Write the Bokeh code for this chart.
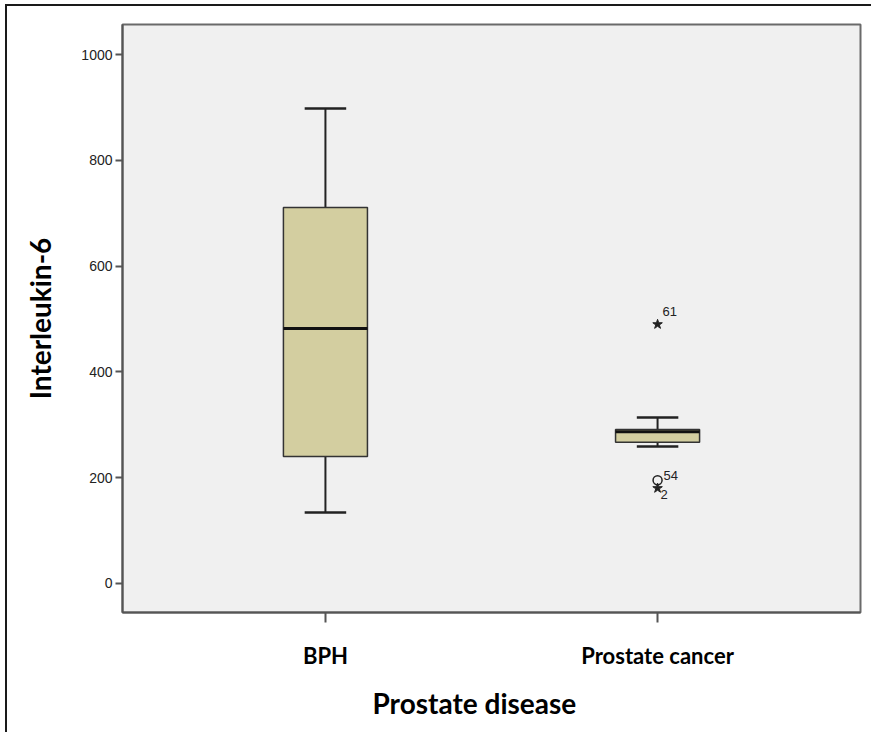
from bokeh.plotting import figure
from bokeh.models import ColumnDataSource, FixedTicker, Title
from bokeh.core.properties import value
from bokeh.embed import file_html
from bokeh.resources import INLINE

# ---- data ----
categories = ["BPH", "Prostate cancer"]
q1 = [240, 267]
median = [482, 287]
q3 = [711, 291]
whisker_low = [134, 259]
whisker_high = [898, 314]

outlier_group = ["Prostate cancer", "Prostate cancer", "Prostate cancer"]
outlier_value = [490, 195, 180]
outlier_case = ["61", "54", "2"]
outlier_kind = ["extreme", "mild", "extreme"]

y_ticks = [0, 200, 400, 600, 800, 1000]
x_title = "Prostate disease"

# ---- layout / style ----
box_width = 0.253
cap_width = 0.125
label_dx = [5, 6, 3]
label_dy = [-13, -5, 6]

xpos = [i + 1 for i in range(len(categories))]
pos_of = {c: i + 1 for i, c in enumerate(categories)}

p = figure(width=866, height=728, x_range=(0.389, 2.611), y_range=(-55, 1057),
           output_backend="svg", toolbar_location=None,
           min_border_left=115, min_border_right=13, min_border_top=18, min_border_bottom=122)
p.styles = {"margin-left": "5px", "margin-top": "4px",
            "border-left": "2px solid #1a1a1a", "border-top": "2px solid #1a1a1a"}

p.background_fill_color = "#f0f0f0"
p.border_fill_color = "white"
p.outline_line_color = "#6a6a6a"
p.outline_line_width = 2
p.grid.visible = False

box_src = ColumnDataSource(dict(x=xpos, q1=q1, q3=q3, med=median, lo=whisker_low, hi=whisker_high,
                                cl=[x - cap_width / 2 for x in xpos], cr=[x + cap_width / 2 for x in xpos],
                                ml=[x - box_width / 2 for x in xpos], mr=[x + box_width / 2 for x in xpos]))

# whiskers
p.segment(x0="x", y0="q3", x1="x", y1="hi", source=box_src, line_color="#222222", line_width=2)
p.segment(x0="x", y0="lo", x1="x", y1="q1", source=box_src, line_color="#222222", line_width=2)
p.segment(x0="cl", y0="hi", x1="cr", y1="hi", source=box_src, line_color="#222222", line_width=2.5)
p.segment(x0="cl", y0="lo", x1="cr", y1="lo", source=box_src, line_color="#222222", line_width=2.5)
# boxes
p.vbar(x="x", width=box_width, top="q3", bottom="q1", source=box_src,
       fill_color="#d3cea0", line_color="#333333", line_width=1.5)
# medians
p.segment(x0="ml", y0="med", x1="mr", y1="med", source=box_src, line_color="#111111", line_width=3)

# outliers
ox = [pos_of[g] for g in outlier_group]
star_idx = [i for i, k in enumerate(outlier_kind) if k == "extreme"]
circ_idx = [i for i, k in enumerate(outlier_kind) if k == "mild"]
p.scatter(x=[ox[i] for i in star_idx], y=[outlier_value[i] for i in star_idx], marker="star",
          size=10, fill_color="#222222", line_color="#222222")
p.scatter(x=[ox[i] for i in circ_idx], y=[outlier_value[i] for i in circ_idx], marker="circle",
          size=9, fill_color=None, line_color="#222222", line_width=1.5)

lab_src = ColumnDataSource(dict(x=ox, y=outlier_value, t=outlier_case, dx=label_dx, dy=label_dy))
p.text(x="x", y="y", text="t", x_offset="dx", y_offset="dy", source=lab_src,
       text_font=value("Liberation Sans"), text_font_size="13px", text_color="#222222",
       text_align="left", text_baseline="middle")

# axes
p.yaxis.ticker = FixedTicker(ticks=y_ticks)
p.yaxis.minor_tick_line_color = None
p.yaxis.major_tick_out = 7
p.yaxis.major_tick_in = 0
p.yaxis.major_label_standoff = 3
p.yaxis.major_label_text_font = "Liberation Sans"
p.yaxis.major_label_text_font_size = "14px"
p.yaxis.major_label_text_color = "#222222"
p.yaxis.axis_line_color = "#555555"
p.yaxis.axis_line_width = 2
p.yaxis.major_tick_line_color = "#555555"
p.yaxis.major_tick_line_width = 2
p.yaxis.axis_label = "Interleukin-6"
p.yaxis.axis_label_text_font = "Lato"
p.yaxis.axis_label_text_font_style = "bold"
p.yaxis.axis_label_text_font_size = "28px"
p.yaxis.axis_label_text_color = "black"
p.yaxis.axis_label_standoff = 21

p.xaxis.ticker = FixedTicker(ticks=xpos)
p.xaxis.major_label_overrides = {x: c for x, c in zip(xpos, categories)}
p.xaxis.minor_tick_line_color = None
p.xaxis.major_tick_out = 10
p.xaxis.major_tick_in = 0
p.xaxis.major_label_standoff = 19
p.xaxis.major_label_text_font = "Lato"
p.xaxis.major_label_text_font_style = "bold"
p.xaxis.major_label_text_font_size = "22px"
p.xaxis.major_label_text_color = "black"
p.xaxis.axis_line_color = "#555555"
p.xaxis.axis_line_width = 2
p.xaxis.major_tick_line_color = "#555555"
p.xaxis.major_tick_line_width = 2

p.add_layout(Title(text=x_title, align="left", offset=250, standoff=25,
                   text_font="Lato", text_font_style="bold", text_font_size="28px",
                   text_color="black"), "below")

open("out.html", "w").write(file_html(p, INLINE))
